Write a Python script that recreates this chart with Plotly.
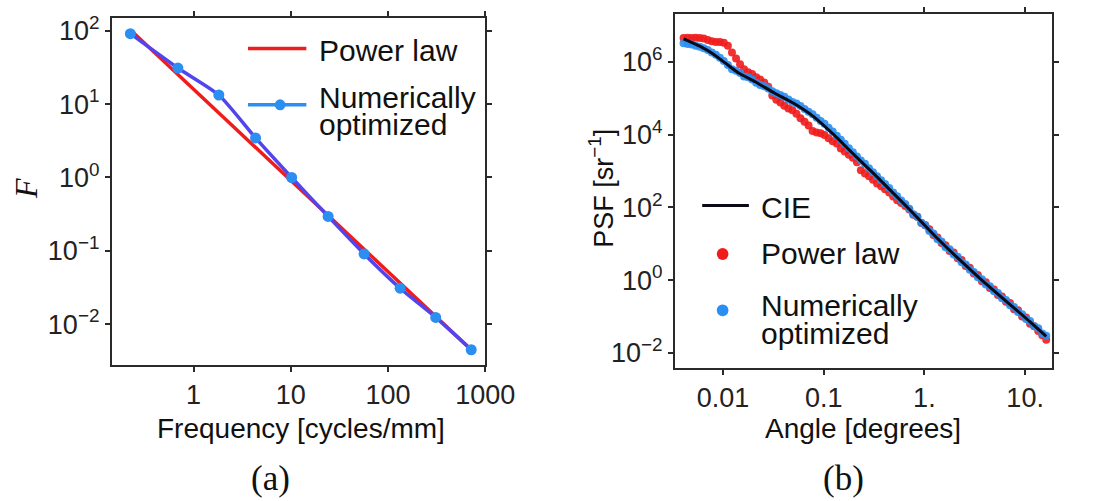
import plotly.graph_objects as go

W, H = 1094, 501

# ---------------- Panel (a) data ----------------
freq_opt = [0.224, 0.69, 1.82, 4.34, 10.2, 24.2, 56.7, 133, 309, 716]
F_opt = [91, 31, 13.3, 3.46, 1.0, 0.295, 0.091, 0.031, 0.0124, 0.0045]
freq_pow = [0.238, 716]
F_pow = [95, 0.0045]

a_xtickvals = [1, 10, 100, 1000]
a_xticktext = ["1", "10", "100", "1000"]
a_ytickvals = [0.01, 0.1, 1, 10, 100]
a_yticktext = ["10<sup>\u22122</sup>", "10<sup>\u22121</sup>", "10<sup>0</sup>",
               "10<sup>1</sup>", "10<sup>2</sup>"]

# ---------------- Panel (b) data ----------------
angle_deg = [0.00407, 0.00447, 0.00490, 0.00537, 0.00589, 0.00646, 0.00708, 0.00776, 0.00851, 0.00933,
             0.0102, 0.0112, 0.0123, 0.0135, 0.0148, 0.0162, 0.0178, 0.0195, 0.0214, 0.0234,
             0.0257, 0.0282, 0.0309, 0.0339, 0.0372, 0.0407, 0.0447, 0.0490, 0.0537, 0.0589,
             0.0646, 0.0708, 0.0776, 0.0851, 0.0933, 0.102, 0.112, 0.123, 0.135, 0.148,
             0.162, 0.178, 0.195, 0.214, 0.234, 0.257, 0.282, 0.309, 0.339, 0.372,
             0.407, 0.447, 0.490, 0.537, 0.589, 0.646, 0.708, 0.776, 0.851, 0.933,
             1.02, 1.12, 1.23, 1.35, 1.48, 1.62, 1.78, 1.95, 2.14, 2.34,
             2.57, 2.82, 3.09, 3.39, 3.72, 4.07, 4.47, 4.90, 5.37, 5.89,
             6.46, 7.08, 7.76, 8.51, 9.33, 10.2, 11.2, 12.3, 13.5, 14.8, 16.2]

psf_power_law = [4.57e6, 4.68e6, 4.57e6, 4.68e6, 4.57e6, 4.47e6, 4.07e6, 3.72e6, 3.55e6, 3.55e6,
                 3.39e6, 2.82e6, 1.82e6, 1.26e6, 8.71e5, 6.31e5, 5.25e5, 4.68e5, 3.80e5, 3.31e5,
                 2.75e5, 2.09e5, 1.20e5, 9.12e4, 7.76e4, 6.31e4, 5.25e4, 4.68e4, 3.80e4, 2.82e4,
                 2.29e4, 1.78e4, 1.26e4, 1.15e4, 1.10e4, 9.77e3, 7.94e3, 6.61e3, 5.75e3, 4.17e3,
                 3.47e3, 2.82e3, 2.34e3, 1.74e3, 1.05e3, 851, 724, 575, 457, 380,
                 316, 257, 200, 158, 132, 110, 87.1, 63.1, 55.0, 37.2,
                 32.4, 25.1, 17.4, 14.8, 10.5, 9.12, 6.31, 5.75, 3.98, 3.55,
                 2.45, 2.19, 1.51, 1.38, 0.933, 0.871, 0.603, 0.550, 0.389, 0.355,
                 0.251, 0.234, 0.158, 0.148, 0.100, 0.0933, 0.0631, 0.0537, 0.0398, 0.0302, 0.0229]

psf_optimized = [3.31e6, 3.16e6, 3.02e6, 2.82e6, 2.63e6, 2.40e6, 2.14e6, 1.82e6, 1.58e6, 1.32e6,
                 1.07e6, 8.32e5, 6.31e5, 5.75e5, 5.01e5, 3.98e5, 3.80e5, 3.31e5, 2.69e5, 2.34e5,
                 2.14e5, 1.86e5, 1.58e5, 1.38e5, 1.23e5, 1.10e5, 9.33e4, 7.94e4, 7.24e4, 6.17e4,
                 5.13e4, 4.27e4, 3.63e4, 2.95e4, 2.40e4, 2.00e4, 1.55e4, 1.23e4, 9.33e3, 7.24e3,
                 5.62e3, 4.27e3, 3.31e3, 2.51e3, 1.95e3, 1.58e3, 1.20e3, 933, 724, 562,
                 437, 339, 257, 204, 155, 123, 91.2, 64.6, 55.0, 38.0,
                 32.4, 22.4, 19.1, 13.2, 11.5, 7.94, 7.08, 5.01, 4.37, 3.09,
                 2.69, 1.91, 1.66, 1.20, 1.05, 0.759, 0.676, 0.490, 0.437, 0.316,
                 0.282, 0.204, 0.182, 0.132, 0.115, 0.0851, 0.0741, 0.0537, 0.0468, 0.0339, 0.0295]

cie_angle = [0.00407, 0.00589, 0.00794, 0.0112, 0.01445, 0.0209, 0.0324, 0.0513, 0.0794,
             0.126, 0.200, 0.316, 0.708, 1.318, 3.55, 11.2, 16.2]
cie_psf = [4.37e6, 2.75e6, 1.70e6, 8.3e5, 4.9e5, 2.88e5, 1.41e5, 7.1e4, 3.16e4,
           1.0e4, 2820, 832, 89, 14.8, 1.12, 0.0708, 0.0282]

b_xtickvals = [0.01, 0.1, 1, 10]
b_xticktext = ["0.01", "0.1", "1.", "10."]
b_ytickvals = [0.01, 1, 100, 1e4, 1e6]
b_yticktext = ["10<sup>\u22122</sup>", "10<sup>0</sup>", "10<sup>2</sup>",
               "10<sup>4</sup>", "10<sup>6</sup>"]

# ---------------- Styles ----------------
RED = "#f01c1c"
BLUE = "#2a8ef2"
INDIGO = "#5244ee"
BLACK = "#0b0b18"
AX = "#2a2a2a"
SANS = "Liberation Sans, Arial, sans-serif"
SERIF = "Liberation Serif, Times New Roman, serif"


def px(x):
    return x / W


def py(y):
    return 1 - y / H


fig = go.Figure()

# Panel (a)
fig.add_trace(go.Scatter(x=freq_pow, y=F_pow, mode="lines",
                         line=dict(color=RED, width=3.5), xaxis="x", yaxis="y",
                         showlegend=False, name="Power law"))
fig.add_trace(go.Scatter(x=freq_opt, y=F_opt, mode="lines+markers",
                         line=dict(color=INDIGO, width=3.5, shape="spline", smoothing=0.6),
                         marker=dict(color=BLUE, size=11), xaxis="x", yaxis="y",
                         showlegend=False, name="Numerically optimized"))

# Panel (b)
fig.add_trace(go.Scatter(x=angle_deg, y=psf_power_law, mode="markers",
                         marker=dict(color=RED, size=8, opacity=0.9),
                         xaxis="x2", yaxis="y2", showlegend=False, name="Power law"))
fig.add_trace(go.Scatter(x=angle_deg, y=psf_optimized, mode="markers",
                         marker=dict(color=BLUE, size=8, opacity=0.9),
                         xaxis="x2", yaxis="y2", showlegend=False, name="Numerically optimized"))
fig.add_trace(go.Scatter(x=cie_angle, y=cie_psf, mode="lines",
                         line=dict(color=BLACK, width=3, shape="spline", smoothing=0.4),
                         xaxis="x2", yaxis="y2", showlegend=False, name="CIE"))

axis_common = dict(showline=True, mirror="ticks", linecolor=AX, linewidth=2,
                   ticks="outside", ticklen=5, tickwidth=2, tickcolor=AX,
                   showgrid=False, zeroline=False, type="log",
                   tickfont=dict(family=SANS, size=27, color="#222222"))

fig.update_layout(
    width=W, height=H,
    margin=dict(l=0, r=0, t=0, b=0),
    paper_bgcolor="white", plot_bgcolor="white",
    showlegend=False,
    xaxis=dict(domain=[px(115), px(499)], anchor="y", range=[-0.84, 3.0],
               tickvals=a_xtickvals, ticktext=a_xticktext, **axis_common),
    yaxis=dict(domain=[py(363), py(12)], anchor="x", range=[-2.55, 2.175],
               tickvals=a_ytickvals, ticktext=a_yticktext, **axis_common),
    xaxis2=dict(domain=[px(694), px(1082)], anchor="y2", range=[-2.476, 1.27],
                tickvals=b_xtickvals, ticktext=b_xticktext, **axis_common),
    yaxis2=dict(domain=[py(366), py(8)], anchor="x2", range=[-2.41, 7.325],
                tickvals=b_ytickvals, ticktext=b_yticktext, **axis_common),
)

shapes = []
annos = []


def text(x, y, s, size=30, family=SANS, xanchor="left", angle=0):
    annos.append(dict(x=px(x), y=py(y), xref="paper", yref="paper", text=s,
                      showarrow=False, xanchor=xanchor, yanchor="middle",
                      textangle=angle, font=dict(family=family, size=size, color="#111111")))


def hline(x0, x1, y, color, width):
    shapes.append(dict(type="line", xref="paper", yref="paper", x0=px(x0), x1=px(x1),
                       y0=py(y), y1=py(y), line=dict(color=color, width=width)))


def dot(x, y, r, color):
    shapes.append(dict(type="circle", xref="paper", yref="paper",
                       x0=px(x - r), x1=px(x + r), y0=py(y + r), y1=py(y - r),
                       fillcolor=color, line=dict(width=0)))


# Legend (a)
hline(255, 315, 43, RED, 3.5)
text(326, 45, "Power law")
hline(255, 315, 100, BLUE, 3.5)
dot(288, 100, 5.5, BLUE)
text(326, 93, "Numerically")
text(326, 120, "optimized")

# Legend (b)
hline(722, 770, 202, BLACK, 3)
text(780, 204, "CIE")
dot(743, 251, 6, RED)
text(780, 251, "Power law")
dot(743, 308, 6, BLUE)
text(780, 303, "Numerically")
text(780, 331, "optimized")

# Axis titles
text(310, 428, "Frequency [cycles/mm]", size=28, xanchor="center")
text(887, 428, "Angle [degrees]", size=28, xanchor="center")
text(27, 185, "<i>F</i>", size=32, family=SERIF, xanchor="center", angle=-90)
text(618, 185, "PSF [sr<sup>\u22121</sup>]", size=27, xanchor="center", angle=-90)

# Panel labels
text(278, 478, "(a)", size=35, family=SERIF, xanchor="center")
text(867, 478, "(b)", size=35, family=SERIF, xanchor="center")

fig.update_layout(shapes=shapes, annotations=annos)

fig.write_html("out.html")
